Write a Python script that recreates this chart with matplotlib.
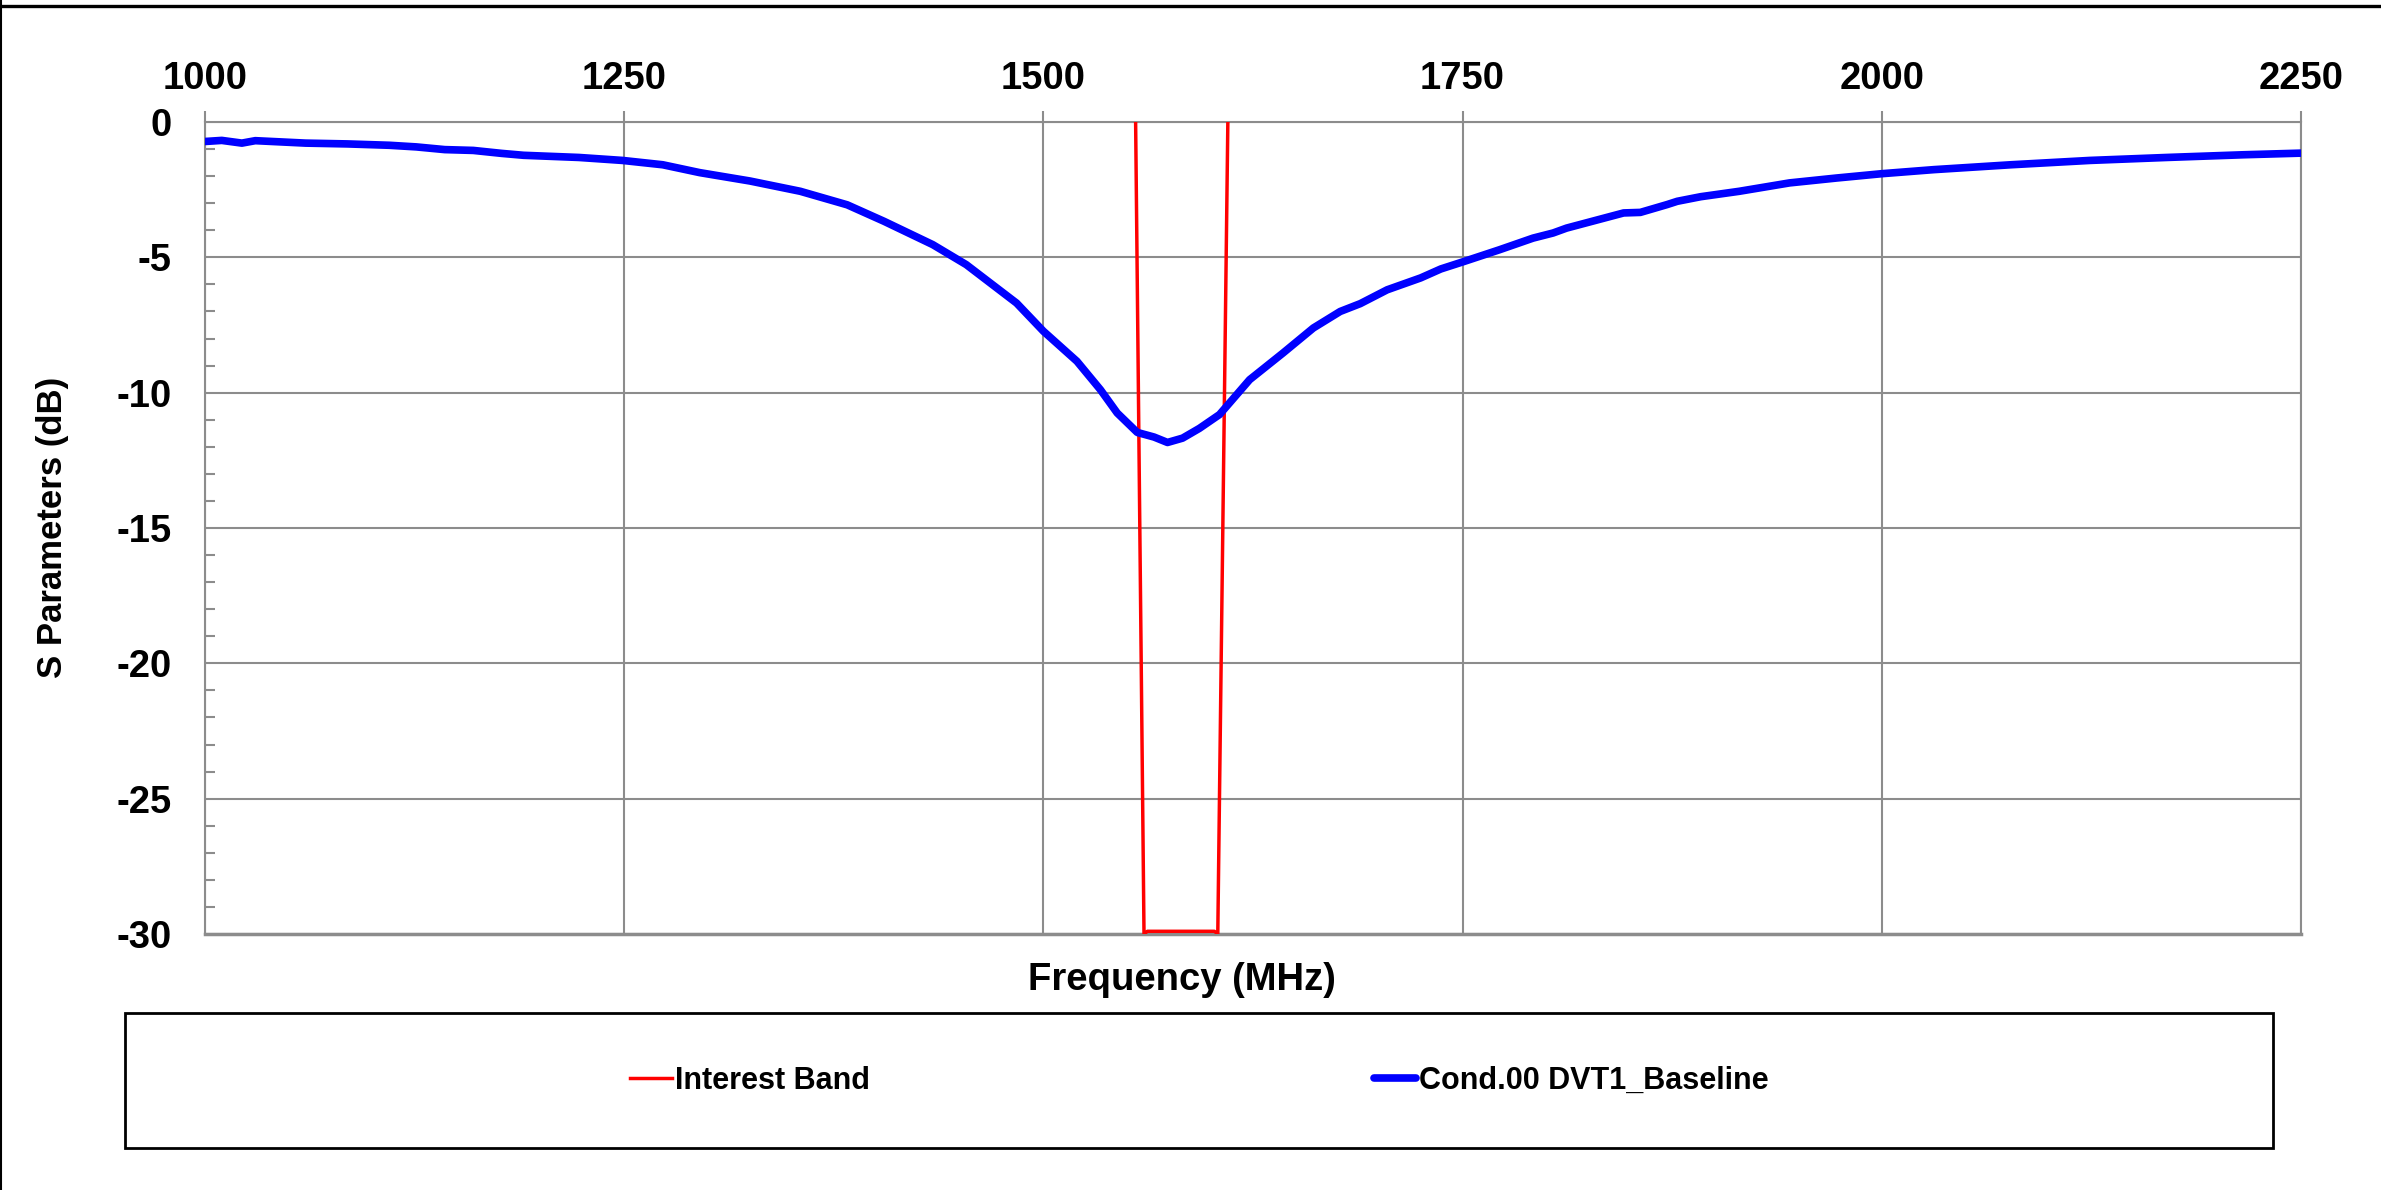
#!/usr/bin/env python3
import matplotlib
matplotlib.use("Agg")
import matplotlib.pyplot as plt
from matplotlib.ticker import MultipleLocator, AutoMinorLocator
from matplotlib.patches import Rectangle
from matplotlib.lines import Line2D

plt.rcParams["font.family"] = ["Liberation Sans", "DejaVu Sans"]
plt.rcParams["font.weight"] = "bold"
plt.rcParams["axes.unicode_minus"] = False

# Interest band marker (MHz, dB)
band_freq = [1555, 1560, 1562, 1602, 1604, 1610]
band_db = [0, -30, -29.9, -29.9, -30, 0]

freq_mhz = [1000, 1010, 1022, 1030, 1060, 1085, 1110, 1126, 1143, 1160, 1177, 1190,
            1223, 1249, 1273, 1295, 1325, 1355, 1383, 1405, 1434, 1454, 1484, 1500,
            1520, 1534, 1544, 1556, 1566, 1574, 1583, 1593, 1605, 1623, 1643, 1661,
            1677, 1689, 1705, 1725, 1737, 1751, 1772, 1792, 1804, 1812, 1846, 1856,
            1872, 1878, 1892, 1915, 1945, 1973, 2000, 2031, 2077, 2124, 2170, 2216, 2250]
s11_db = [-0.72, -0.68, -0.78, -0.69, -0.78, -0.81, -0.86, -0.92, -1.02, -1.05, -1.16, -1.23,
          -1.31, -1.42, -1.58, -1.87, -2.18, -2.56, -3.06, -3.67, -4.53, -5.27, -6.69, -7.73,
          -8.84, -9.89, -10.75, -11.47, -11.64, -11.84, -11.68, -11.32, -10.81, -9.52, -8.53, -7.61,
          -7.0, -6.71, -6.2, -5.76, -5.43, -5.15, -4.72, -4.29, -4.1, -3.92, -3.36, -3.34,
          -3.05, -2.93, -2.76, -2.56, -2.25, -2.07, -1.91, -1.76, -1.58, -1.42, -1.31, -1.21, -1.15]

x_ticks = [1000, 1250, 1500, 1750, 2000, 2250]
grid_col = "#8c8c8c"

W, H = 2381, 1190
fig = plt.figure(figsize=(W / 100, H / 100), dpi=100)
ax = fig.add_axes([205 / W, 1 - 934 / H, 2096 / W, (934 - 122) / H])

ax.plot(band_freq, band_db, color="#ff0000", lw=2.5, label="Interest Band", zorder=3)
ax.plot(freq_mhz, s11_db, color="#0000ff", lw=5.5, label="Cond.00 DVT1_Baseline", zorder=4,
        solid_joinstyle="round", solid_capstyle="round")

ax.set_xlim(1000, 2250)
ax.set_ylim(-30, 0)
ax.xaxis.tick_top()
ax.set_xticks(x_ticks)
ax.yaxis.set_major_locator(MultipleLocator(5))
ax.yaxis.set_minor_locator(AutoMinorLocator(5))
ax.tick_params(axis="x", which="major", direction="out", length=8, width=1.5,
               color=grid_col, labelsize=27.5, pad=10)
ax.tick_params(axis="y", which="major", length=0, labelsize=27.5, pad=24)
ax.tick_params(axis="y", which="minor", direction="in", length=7, width=1.5, color=grid_col)
for lab in ax.get_xticklabels() + ax.get_yticklabels():
    lab.set_fontweight("bold")

ax.grid(True, which="major", color=grid_col, lw=1.5)
ax.set_axisbelow(True)
for side, sp in ax.spines.items():
    sp.set_color(grid_col)
    sp.set_linewidth(1.5)
ax.spines["bottom"].set_linewidth(2.5)

fig.text(1182 / W, 1 - 980 / H, "Frequency (MHz)", fontsize=27.5, fontweight="bold",
         ha="center", va="center")
fig.text(53 / W, 1 - 527 / H, "S Parameters (dB)", fontsize=25, fontweight="bold",
         ha="center", va="center", rotation=90)

# legend box under the plot
fig.patches.append(Rectangle((125 / W, 1 - 1148 / H), 2148 / W, 135 / H,
                             transform=fig.transFigure, fill=False, edgecolor="black", lw=2))
handles, labels = ax.get_legend_handles_labels()
fig.legend(handles, labels, loc="center", bbox_to_anchor=(1199 / W, 1 - 1081 / H),
           ncol=2, frameon=False, handlelength=1.37, handletextpad=0.1,
           columnspacing=16.5, prop={"weight": "bold", "size": 22})

# outer frame: top and left edges only
fig.add_artist(Line2D([0, 1], [1 - 5.5 / H, 1 - 5.5 / H], transform=fig.transFigure, color="black", lw=2.4))
fig.add_artist(Line2D([1 / W, 1 / W], [0, 1], transform=fig.transFigure, color="black", lw=1.5))

fig.savefig("out.png", dpi=100)
